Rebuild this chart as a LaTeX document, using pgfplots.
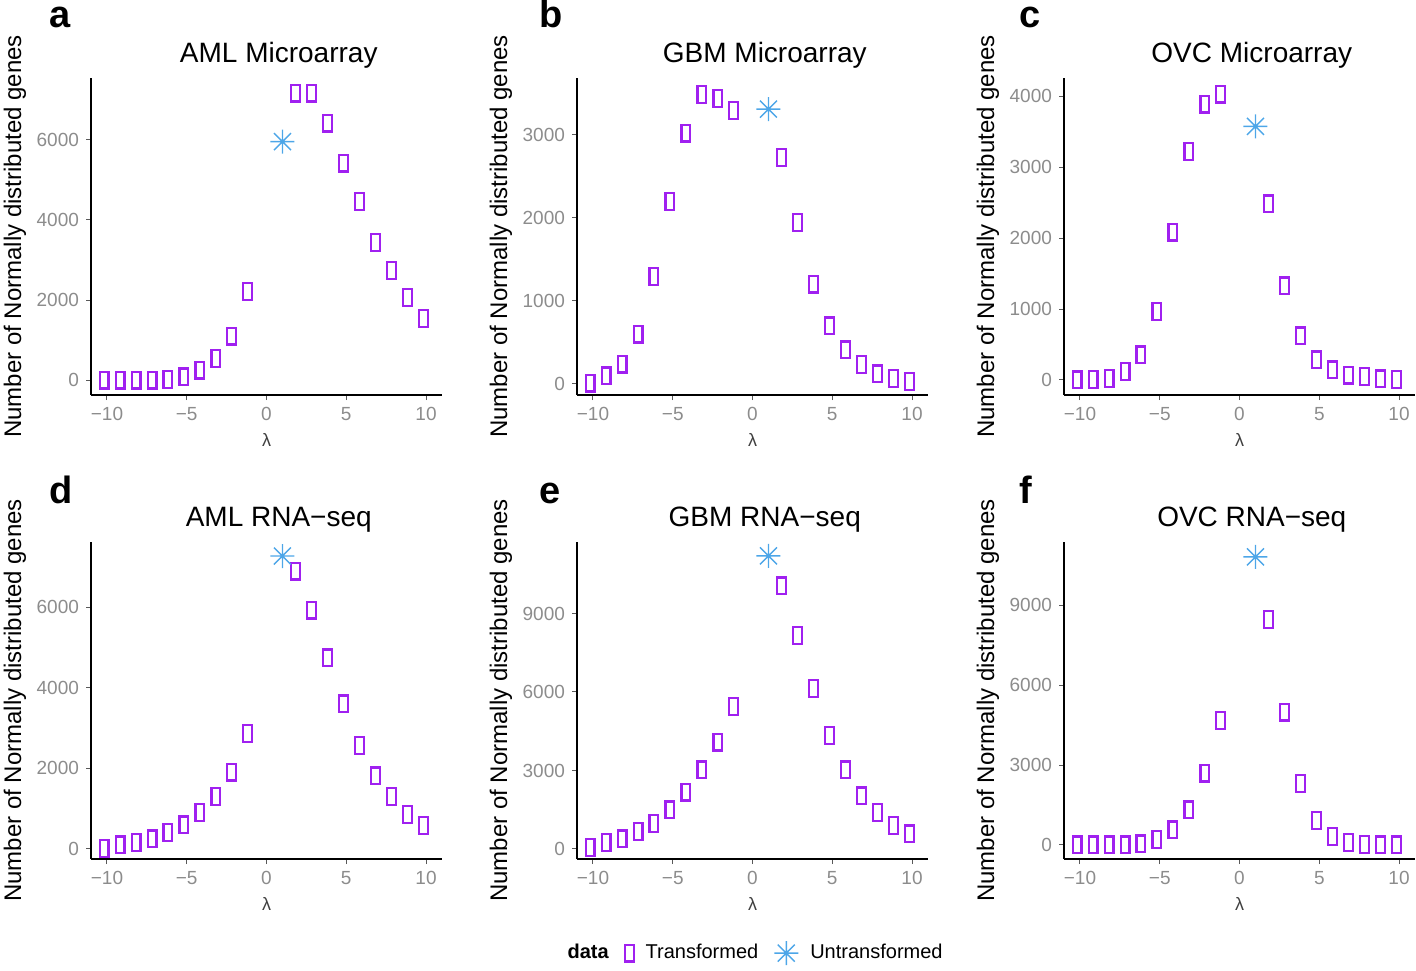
\documentclass[border=0pt]{standalone}
\usepackage{fontspec}
\setmainfont{Liberation Sans}
\usepackage{pgfplots}
\pgfplotsset{compat=1.18}

\definecolor{trcol}{HTML}{A020F0}
\definecolor{utcol}{HTML}{4DA6E8}
\definecolor{tickgray}{HTML}{8C8C8C}

% tall hollow rectangle (ggplot glyph) and 8-arm asterisk
\pgfdeclareplotmark{tallrect}{%
  \pgfpathrectangle{\pgfpoint{-2.2pt}{-4.2pt}}{\pgfpoint{4.4pt}{8.4pt}}%
  \pgfusepathqstroke}
\pgfdeclareplotmark{star8}{%
  \pgfpathmoveto{\pgfpoint{0pt}{\pgfplotmarksize}}%
  \pgfpathlineto{\pgfpoint{0pt}{-\pgfplotmarksize}}%
  \pgfpathmoveto{\pgfpoint{\pgfplotmarksize}{0pt}}%
  \pgfpathlineto{\pgfpoint{-\pgfplotmarksize}{0pt}}%
  \pgfpathmoveto{\pgfpoint{0.7071\pgfplotmarksize}{0.7071\pgfplotmarksize}}%
  \pgfpathlineto{\pgfpoint{-0.7071\pgfplotmarksize}{-0.7071\pgfplotmarksize}}%
  \pgfpathmoveto{\pgfpoint{-0.7071\pgfplotmarksize}{0.7071\pgfplotmarksize}}%
  \pgfpathlineto{\pgfpoint{0.7071\pgfplotmarksize}{-0.7071\pgfplotmarksize}}%
  \pgfusepathqstroke}

\pgfplotsset{
  panel/.style={
    scale only axis, width=175.5pt, height=158.5pt, anchor=south west,
    clip=false,
    axis x line*=bottom, axis y line*=left,
    axis line style={line width=0.75pt, black},
    xmin=-11, xmax=11,
    xtick={-10,-5,0,5,10}, xticklabels={−10,−5,0,5,10},
    scaled y ticks=false,
    tick align=outside, major tick length=2.5pt,
    tick style={gray!70!black, line width=0.5pt},
    ticklabel style={font=\fontsize{9.5}{11}\selectfont, text=tickgray},
    /pgf/number format/1000 sep={},
    /pgf/number format/assume math mode=true,
    xlabel={λ},
    ylabel={Number of Normally distributed genes},
    every axis x label/.style={at={(axis description cs:0.5,-0.143)}, anchor=center,
      font=\fontsize{9}{10}\selectfont, text=black!75},
    every axis y label/.style={at={(axis description cs:-0.2165,0.5)}, rotate=90,
      anchor=center, font=\fontsize{12}{14}\selectfont},
    title style={at={(axis description cs:0.535,1)}, anchor=base, yshift=1.8pt,
      font=\fontsize{14}{16}\selectfont},
  },
  tr/.style={only marks, mark=tallrect, color=trcol,
    mark options={line width=1.1pt, xshift=-1.4pt}},
  ut/.style={only marks, mark=star8, mark size=6pt, color=utcol,
    mark options={line width=0.7pt}},
}

\begin{document}
\begin{tikzpicture}
\path[use as bounding box] (0,0) rectangle (708pt,485pt);

% panel letters
\node[anchor=base west, font=\fontsize{19}{20}\selectfont\bfseries] at (21pt,471pt) {a};
\node[anchor=base west, font=\fontsize{19}{20}\selectfont\bfseries] at (266pt,471pt) {b};
\node[anchor=base west, font=\fontsize{19}{20}\selectfont\bfseries] at (506pt,471pt) {c};
\node[anchor=base west, font=\fontsize{19}{20}\selectfont\bfseries] at (21pt,233.5pt) {d};
\node[anchor=base west, font=\fontsize{19}{20}\selectfont\bfseries] at (266pt,233.5pt) {e};
\node[anchor=base west, font=\fontsize{19}{20}\selectfont\bfseries] at (506pt,233.5pt) {f};

% a
\begin{axis}[panel, at={(45.5pt,287.5pt)}, title={AML Microarray},
  ymin=-375, ymax=7550, ytick={0,2000,4000,6000}]
\addplot[tr] coordinates {(-10,0) (-9,0) (-8,0) (-7,0) (-6,20) (-5,80) (-4,250)
  (-3,540) (-2,1100) (-1,2210) (2,7170) (3,7170) (4,6420) (5,5420) (6,4460)
  (7,3440) (8,2730) (9,2070) (10,1540)};
\addplot[ut] coordinates {(1,5960)};
\end{axis}

% b
\begin{axis}[panel, at={(288.5pt,287.5pt)}, title={GBM Microarray},
  ymin=-133, ymax=3683, ytick={0,1000,2000,3000}]
\addplot[tr] coordinates {(-10,10) (-9,96) (-8,240) (-7,600) (-6,1293) (-5,2197)
  (-4,3020) (-3,3482) (-2,3438) (-1,3289) (2,2727) (3,1944) (4,1201) (5,699)
  (6,410) (7,237) (8,120) (9,68) (10,28)};
\addplot[ut] coordinates {(1,3309)};
\end{axis}

% c
\begin{axis}[panel, at={(532pt,287.5pt)}, title={OVC Microarray},
  ymin=-212, ymax=4260, ytick={0,1000,2000,3000,4000}]
\addplot[tr] coordinates {(-10,0) (-9,5) (-8,24) (-7,118) (-6,353) (-5,965)
  (-4,2085) (-3,3224) (-2,3892) (-1,4033) (2,2485) (3,1327) (4,621) (5,282)
  (6,141) (7,70) (8,47) (9,14) (10,5)};
\addplot[ut] coordinates {(1,3577)};
\end{axis}

% d
\begin{axis}[panel, at={(45.5pt,55.5pt)}, title={AML RNA−seq},
  ymin=-249, ymax=7616, ytick={0,2000,4000,6000}]
\addplot[tr] coordinates {(-10,17) (-9,100) (-8,157) (-7,249) (-6,406) (-5,597)
  (-4,912) (-3,1301) (-2,1906) (-1,2859) (2,6895) (3,5925) (4,4740) (5,3597)
  (6,2569) (7,1815) (8,1301) (9,862) (10,580)};
\addplot[ut] coordinates {(1,7268)};
\end{axis}

% e (carries the shared legend)
\begin{axis}[panel, at={(288.5pt,55.5pt)}, title={GBM RNA−seq},
  ymin=-383, ymax=11731, ytick={0,3000,6000,9000},
  legend columns=-1,
  legend style={at={(axis description cs:0.496,-0.297)}, anchor=center,
    draw=none, fill=none, font=\fontsize{10}{11}\selectfont,
    /tikz/every even column/.append style={column sep=6pt},
    /tikz/every odd column/.append style={column sep=4pt}}]
\addlegendimage{empty legend}
\addlegendentry{\textbf{data}}
\addplot[tr] coordinates {(-10,51) (-9,243) (-8,383) (-7,664) (-6,983) (-5,1494)
  (-4,2171) (-3,3026) (-2,4086) (-1,5453) (2,10050) (3,8160) (4,6130) (5,4342)
  (6,3026) (7,2030) (8,1392) (9,894) (10,575)};
\addlegendentry{Transformed}
\addplot[ut] coordinates {(1,11199)};
\addlegendentry{Untransformed}
\end{axis}

% f
\begin{axis}[panel, at={(532pt,55.5pt)}, title={OVC RNA−seq},
  ymin=-526, ymax=11369, ytick={0,3000,6000,9000}]
\addplot[tr] coordinates {(-10,0) (-9,0) (-8,0) (-7,0) (-6,38) (-5,213) (-4,564)
  (-3,1316) (-2,2694) (-1,4661) (2,8458) (3,4987) (4,2318) (5,915) (6,313)
  (7,88) (8,25) (9,0) (10,0)};
\addplot[ut] coordinates {(1,10813)};
\end{axis}
\end{tikzpicture}
\end{document}
